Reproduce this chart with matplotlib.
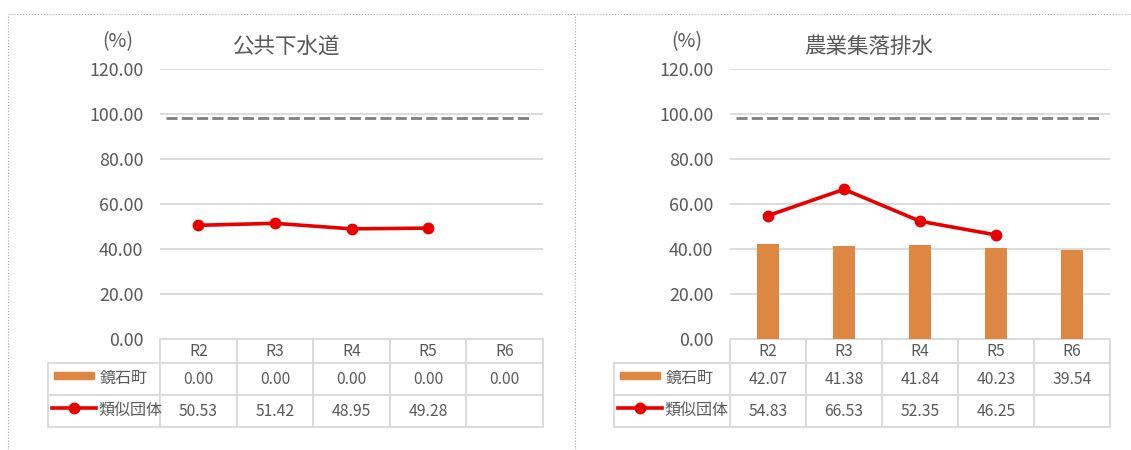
import numpy as np
import matplotlib.pyplot as plt
from matplotlib.lines import Line2D
from matplotlib.patches import Rectangle

plt.rcParams['font.family'] = ['Noto Sans CJK JP', 'DejaVu Sans']

# data
years = ['R2', 'R3', 'R4', 'R5', 'R6']
series_names = ['鏡石町', '類似団体']
sewer_town = [0.00, 0.00, 0.00, 0.00, 0.00]
sewer_similar = [50.53, 51.42, 48.95, 49.28, np.nan]
agri_town = [42.07, 41.38, 41.84, 40.23, 39.54]
agri_similar = [54.83, 66.53, 52.35, 46.25, np.nan]
ref_level = 98.2

ORANGE = '#dd8742'
RED = '#e80000'
GRID = '#d9d9d9'
TXT = '#595959'

W, H = 1131, 450
fig = plt.figure(figsize=(W / 100, H / 100), dpi=100)

AX_TOP, AX_BOT = 69, 339
ROW_H = [24, 32, 32]


def fmt(v):
    return '' if np.isnan(v) else f'{v:.2f}'


def draw_panel(left, right, tab_left, title, title_x, pct_x, town, similar):
    aw = right - left
    ah = AX_BOT - AX_TOP
    ax = fig.add_axes([left / W, 1 - AX_BOT / H, aw / W, ah / H])
    x = np.arange(len(years))
    ax.bar(x, town, width=0.3, color=ORANGE, zorder=2)
    ax.plot(x, similar, color=RED, lw=2.6, marker='o', ms=7.5, zorder=3)
    ax.hlines(ref_level, -0.42, 4.36, colors='#808080', lw=2,
              linestyles=(0, (4, 1.5)), zorder=2)
    ax.set_xlim(-0.5, len(years) - 0.5)
    ax.set_ylim(0, 120)
    ax.set_yticks(np.arange(0, 121, 20))
    ax.yaxis.set_major_formatter(lambda v, p: f'{v:.2f}')
    ax.grid(axis='y', color=GRID, lw=1.3)
    ax.set_axisbelow(True)
    for s in ax.spines.values():
        s.set_visible(False)
    ax.tick_params(axis='y', length=0, pad=12, labelsize=12.8, labelcolor=TXT)
    ax.set_xticks([])

    # data table under the plot
    leg_w = left - tab_left
    col_w = aw / len(years)
    th = sum(ROW_H)
    cells = [[''] + [fmt(v) for v in town], [''] + [fmt(v) for v in similar]]
    tab = ax.table(cellText=cells, colLabels=[''] + years,
                   colWidths=[leg_w] + [col_w] * len(years), cellLoc='center',
                   bbox=[(tab_left - left) / aw, -th / ah, (right - tab_left) / aw, th / ah])
    tab.auto_set_font_size(False)
    tab.set_fontsize(11.3)
    tab.set_clip_on(False)
    for (r, c), cell in tab.get_celld().items():
        cell.set_edgecolor(GRID)
        cell.set_linewidth(1.3)
        cell.set_height(ROW_H[r])
        cell.get_text().set_color(TXT)
    tab[0, 0].visible_edges = ''

    # legend keys inside the table
    def ax_x(px):
        return (px - left) / aw

    def ax_y(py):
        return (AX_BOT - py) / ah

    ax.add_patch(Rectangle((ax_x(tab_left + 6), ax_y(379)), 40 / aw, 7 / ah,
                           color=ORANGE, transform=ax.transAxes, clip_on=False))
    ax.add_line(Line2D([ax_x(tab_left + 4), ax_x(tab_left + 26), ax_x(tab_left + 48)],
                       [ax_y(408)] * 3, color=RED, lw=2.6, marker='o', ms=7.5,
                       markevery=[1], transform=ax.transAxes, clip_on=False))
    ax.text(ax_x(tab_left + 52), ax_y(378), series_names[0], transform=ax.transAxes,
            ha='left', va='center', fontsize=11.5, color=TXT)
    ax.text(ax_x(tab_left + 50), ax_y(410), series_names[1], transform=ax.transAxes,
            ha='left', va='center', fontsize=11.5, color=TXT)

    fig.text(title_x / W, 1 - 47 / H, title, ha='center', va='center',
             fontsize=15.5, color=TXT)
    fig.text(pct_x / W, 1 - 42 / H, '(%)', ha='center', va='center',
             fontsize=14, color=TXT)
    return ax


draw_panel(160, 543, 48, '公共下水道', 287, 118, sewer_town, sewer_similar)
draw_panel(730, 1110, 614, '農業集落排水', 869, 687, agri_town, agri_similar)

# dotted frame lines
frame = dict(color='#a6a6a6', lw=0.8, ls=':')
fig.add_artist(Line2D([8 / W, 1], [1 - 14 / H] * 2, **frame))
fig.add_artist(Line2D([8 / W] * 2, [0, 1 - 14 / H], **frame))
fig.add_artist(Line2D([575 / W] * 2, [0, 1 - 14 / H], **frame))

fig.savefig('out.png', dpi=100)
